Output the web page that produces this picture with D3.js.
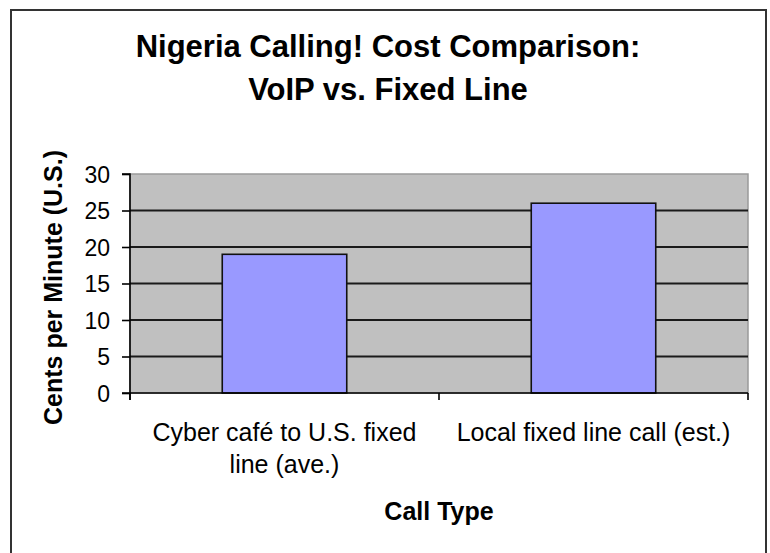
<!DOCTYPE html>
<html>
<head>
<meta charset="utf-8">
<script src="https://cdn.jsdelivr.net/npm/d3@7"></script>
<style>
  html, body { margin: 0; padding: 0; background: #fff; }
  svg { display: block; }
  text { font-family: "Liberation Sans", Arial, sans-serif; fill: #000; }
</style>
</head>
<body>
<svg id="chart" width="770" height="553"></svg>
<script>
const categories = [["Cyber café to U.S. fixed", "line (ave.)"], ["Local fixed line call (est.)"]];
const categoryKeys = ["Cyber café to U.S. fixed line (ave.)", "Local fixed line call (est.)"];
const values = [19, 26];
const yTicks = [0, 5, 10, 15, 20, 25, 30];
const titleLines = ["Nigeria Calling! Cost Comparison:", "VoIP vs. Fixed Line"];
const yTitle = "Cents per Minute (U.S.)";
const xTitle = "Call Type";

const svg = d3.select("#chart");
const W = 770, H = 553;
const plot = { left: 130, right: 748, top: 174, bottom: 393 };

// outer frame
svg.append("rect").attr("x", 11).attr("y", 10).attr("width", 755).attr("height", 560)
  .attr("fill", "#fff").attr("stroke", "#333").attr("stroke-width", 2);

// title
svg.append("g").selectAll("text").data(titleLines).join("text")
  .attr("x", 388).attr("y", (d, i) => 57 + i * 43)
  .attr("text-anchor", "middle").attr("font-size", 31).attr("font-weight", "bold")
  .text(d => d);

const x = d3.scaleBand().domain(categoryKeys).range([plot.left, plot.right]).paddingInner(0).paddingOuter(0);
const y = d3.scaleLinear().domain([0, 30]).range([plot.bottom, plot.top]);

// plot area
svg.append("rect").attr("x", plot.left).attr("y", plot.top)
  .attr("width", plot.right - plot.left).attr("height", plot.bottom - plot.top)
  .attr("fill", "#c0c0c0").attr("stroke", "#9a9a9a").attr("stroke-width", 1.5);

// gridlines
svg.append("g").selectAll("line").data(yTicks.filter(t => t > 0 && t < 30)).join("line")
  .attr("x1", plot.left).attr("x2", plot.right)
  .attr("y1", d => y(d)).attr("y2", d => y(d))
  .attr("stroke", "#1a1a1a").attr("stroke-width", 1.8);

// bars
const barW = 124.5;
svg.append("g").selectAll("rect").data(values).join("rect")
  .attr("x", (d, i) => x(categoryKeys[i]) + x.bandwidth() / 2 - barW / 2)
  .attr("width", barW)
  .attr("y", d => y(d)).attr("height", d => y(0) - y(d))
  .attr("fill", "#9999ff").attr("stroke", "#111").attr("stroke-width", 1.6);

// y axis
const yAxis = d3.axisLeft(y).tickValues(yTicks).tickSize(8).tickPadding(12).tickFormat(d3.format("d"));
const gy = svg.append("g").attr("transform", `translate(${plot.left},0)`).call(yAxis);
gy.select(".domain").attr("stroke", "#000").attr("stroke-width", 1.6).attr("d", `M-8,${plot.top}H0V${plot.bottom + 7}`);
gy.selectAll(".tick line").attr("stroke", "#000").attr("stroke-width", 1.6);
gy.selectAll(".tick text").attr("font-size", 23).attr("font-family", "Liberation Sans, Arial, sans-serif").attr("fill", "#000").attr("dy", "0.35em");

// x axis
const gx = svg.append("g").attr("transform", `translate(0,${plot.bottom})`);
gx.append("line").attr("x1", plot.left - 8).attr("x2", plot.right).attr("y1", 0).attr("y2", 0)
  .attr("stroke", "#000").attr("stroke-width", 1.6);
const tickXs = categoryKeys.map(k => x(k)).concat([x(categoryKeys[categoryKeys.length - 1]) + x.bandwidth()]);
gx.selectAll("line.t").data(tickXs).join("line").attr("class", "t")
  .attr("x1", d => d).attr("x2", d => d).attr("y1", 0).attr("y2", 7)
  .attr("stroke", "#000").attr("stroke-width", 1.6);

// category labels
const cl = svg.append("g").selectAll("text").data(categories).join("text")
  .attr("x", (d, i) => x(categoryKeys[i]) + x.bandwidth() / 2)
  .attr("y", 441).attr("text-anchor", "middle").attr("font-size", 25);
cl.each(function(d) {
  const t = d3.select(this);
  d.forEach((line, j) => {
    t.append("tspan").attr("x", t.attr("x")).attr("dy", j === 0 ? 0 : 32).text(line);
  });
});

// axis titles
svg.append("text").attr("x", 439).attr("y", 520).attr("text-anchor", "middle")
  .attr("font-size", 25).attr("font-weight", "bold").text(xTitle);
svg.append("text").attr("transform", `translate(62,${(plot.top + plot.bottom) / 2 + 4}) rotate(-90)`)
  .attr("text-anchor", "middle").attr("font-size", 25).attr("font-weight", "bold").text(yTitle);
</script>
</body>
</html>
